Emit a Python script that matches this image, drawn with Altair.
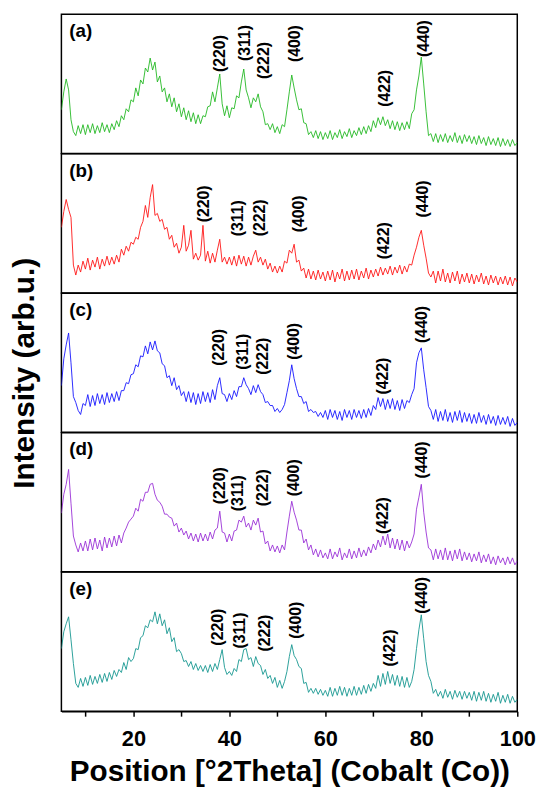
import altair as alt
import pandas as pd

FONT = "Liberation Sans"

# 2-theta sampling positions (degrees), 5.0 ... 100.0 in 0.5 steps
two_theta = [round(5 + 0.5 * i, 1) for i in range(191)]

# Intensities (arbitrary units, 0-140 per panel)
int_a = [
    44, 62, 75, 64, 34, 22, 18, 28, 20, 29,
    19, 29, 21, 30, 20, 28, 21, 31, 22, 29, 21, 30, 24, 33, 27, 38, 34, 45, 42, 54,
    52, 66, 58, 74, 70, 86, 82, 96, 84, 92, 72, 78, 62, 66, 52, 60, 47, 56, 42, 50,
    37, 46, 34, 43, 32, 41, 30, 39, 30, 38, 37, 47, 48, 62, 52, 66, 80, 50, 38, 48,
    36, 46, 45, 58, 56, 72, 85, 64, 56, 46, 56, 52, 60, 47, 42, 29, 30, 24, 30, 21,
    27, 20, 29, 27, 44, 62, 79, 66, 54, 44, 45, 31, 30, 19, 22, 16, 23, 15, 22, 14,
    21, 15, 23, 14, 21, 16, 24, 15, 22, 17, 25, 16, 23, 18, 26, 19, 27, 20, 28, 22,
    33, 26, 36, 29, 37, 28, 34, 25, 33, 24, 32, 23, 31, 24, 32, 25, 40, 44, 64, 78,
    97, 70, 42, 18, 20, 12, 20, 11, 19, 12, 20, 11, 18, 12, 21, 11, 18, 10, 19, 12,
    18, 10, 17, 9, 18, 10, 16, 8, 17, 9, 15, 8, 16, 7, 15, 8, 14, 7, 14, 8, 11]

int_b = [
    66, 82, 94, 84, 76, 28, 18, 28, 21, 32,
    24, 35, 23, 33, 26, 36, 24, 34, 27, 37, 28, 36, 29, 38, 31, 44, 38, 47, 42, 51,
    49, 56, 54, 66, 72, 88, 76, 96, 109, 78, 80, 72, 74, 64, 66, 54, 58, 46, 50, 40,
    46, 68, 42, 48, 63, 34, 40, 33, 38, 68, 32, 42, 30, 40, 31, 43, 54, 31, 36, 29,
    36, 28, 37, 27, 38, 29, 37, 27, 36, 28, 37, 43, 31, 36, 28, 34, 24, 30, 21, 27,
    20, 27, 21, 32, 30, 43, 40, 49, 31, 33, 22, 25, 15, 24, 14, 22, 13, 23, 14, 21,
    12, 22, 13, 23, 11, 21, 14, 24, 12, 22, 13, 23, 14, 24, 13, 22, 15, 25, 14, 23,
    16, 24, 17, 26, 18, 25, 19, 27, 18, 26, 20, 28, 19, 27, 21, 29, 28, 38, 46, 56,
    63, 48, 35, 20, 16, 22, 10, 22, 12, 24, 11, 20, 10, 21, 12, 22, 9, 19, 11, 20,
    10, 19, 9, 18, 11, 20, 9, 17, 8, 18, 10, 17, 8, 16, 9, 17, 8, 16, 7, 15, 11]

int_c = [
    47, 74, 88, 100, 70, 36, 30, 22, 18, 29,
    27, 38, 26, 37, 27, 39, 29, 38, 28, 40, 30, 39, 31, 41, 32, 42, 42, 50, 49, 58,
    59, 68, 66, 77, 76, 87, 79, 91, 83, 92, 82, 80, 69, 67, 55, 57, 47, 55, 43, 47,
    37, 41, 31, 41, 30, 40, 28, 39, 29, 41, 31, 40, 30, 43, 33, 47, 55, 39, 38, 31,
    39, 33, 42, 36, 46, 46, 55, 48, 44, 38, 47, 40, 48, 41, 38, 30, 31, 27, 27, 21,
    24, 20, 23, 28, 40, 52, 68, 54, 44, 36, 36, 29, 31, 21, 23, 20, 21, 16, 20, 15,
    22, 13, 23, 15, 22, 13, 21, 12, 23, 15, 22, 13, 23, 15, 22, 14, 23, 15, 24, 17,
    27, 23, 35, 26, 34, 23, 33, 24, 34, 23, 32, 22, 33, 24, 32, 30, 38, 44, 70, 80,
    85, 63, 45, 26, 22, 13, 23, 11, 21, 12, 23, 11, 20, 10, 21, 12, 22, 10, 20, 11,
    19, 9, 18, 9, 20, 10, 17, 8, 18, 9, 16, 7, 17, 8, 15, 8, 16, 6, 14, 7, 10]

int_d = [
    59, 78, 88, 103, 69, 36, 27, 20, 29, 21,
    31, 21, 33, 22, 34, 23, 32, 21, 35, 24, 34, 25, 36, 26, 37, 29, 39, 44, 50, 53,
    56, 64, 61, 73, 71, 80, 80, 88, 89, 78, 72, 70, 66, 58, 58, 55, 54, 46, 49, 40,
    44, 37, 41, 33, 39, 31, 38, 30, 39, 31, 38, 31, 40, 33, 42, 44, 61, 40, 39, 30,
    38, 31, 41, 42, 52, 50, 56, 45, 49, 42, 52, 47, 54, 40, 41, 28, 31, 21, 27, 20,
    26, 19, 27, 22, 40, 56, 71, 60, 52, 42, 42, 29, 33, 22, 27, 17, 23, 15, 22, 14,
    19, 13, 23, 13, 20, 15, 24, 12, 19, 14, 23, 13, 21, 14, 24, 15, 22, 16, 25, 19,
    28, 22, 32, 25, 36, 27, 38, 24, 34, 23, 33, 22, 32, 21, 31, 24, 30, 38, 63, 75,
    88, 60, 40, 24, 22, 12, 23, 13, 22, 12, 24, 12, 21, 11, 22, 13, 23, 11, 20, 12,
    19, 10, 18, 11, 20, 9, 17, 10, 18, 8, 15, 7, 16, 9, 14, 7, 15, 8, 14, 7, 11]

int_e = [
    63, 80, 88, 95, 72, 48, 28, 24, 33, 25,
    34, 26, 36, 27, 35, 28, 37, 29, 38, 30, 39, 32, 41, 35, 42, 39, 49, 42, 54, 50,
    53, 63, 62, 74, 76, 86, 84, 92, 90, 100, 88, 98, 86, 92, 78, 84, 70, 74, 60, 62,
    58, 50, 51, 45, 50, 42, 48, 41, 46, 40, 46, 39, 47, 40, 48, 42, 52, 62, 44, 37,
    40, 36, 43, 40, 52, 50, 62, 63, 52, 54, 45, 55, 48, 46, 37, 42, 33, 36, 28, 34,
    24, 31, 23, 30, 40, 55, 67, 56, 52, 45, 43, 28, 29, 19, 23, 18, 23, 17, 22, 16,
    21, 15, 24, 15, 23, 16, 25, 16, 24, 15, 23, 16, 25, 16, 24, 17, 26, 18, 27, 20,
    28, 23, 36, 25, 38, 27, 40, 28, 37, 26, 36, 25, 35, 24, 34, 24, 30, 42, 63, 82,
    97, 73, 50, 36, 30, 18, 22, 15, 20, 13, 22, 14, 20, 12, 21, 14, 20, 12, 20, 13,
    19, 11, 20, 10, 19, 11, 20, 10, 18, 9, 17, 10, 19, 8, 16, 9, 17, 8, 15, 9, 12]

panel_tags = ["(a)", "(b)", "(c)", "(d)", "(e)"]
panel_colors = ["#22b822", "#ff1414", "#1414ff", "#9a2fd6", "#14968f"]

peak_hkl = ["(220)", "(311)", "(222)", "(400)", "(422)", "(440)"]
lab_a_x = [38.0, 43.3, 47.2, 53.6, 72.4, 80.5]
lab_a_y = [82, 93, 75, 92, 47, 97]
lab_b_x = [34.8, 41.9, 46.3, 54.6, 72.2, 80.3]
lab_b_y = [71, 57, 57, 61, 34, 76]
lab_c_x = [37.9, 42.8, 47.0, 53.4, 72.1, 80.1]
lab_c_y = [67, 63, 58, 73, 38, 90]
lab_d_x = [38.1, 41.9, 47.0, 53.4, 72.1, 80.1]
lab_d_y = [68, 61, 66, 76, 38, 94]
lab_e_x = [37.6, 42.3, 47.4, 53.9, 73.4, 80.2]
lab_e_y = [66, 63, 60, 73, 45, 98]

x_ticks = [10, 20, 30, 40, 50, 60, 70, 80, 90, 100]

series = [int_a, int_b, int_c, int_d, int_e]
labels = [(lab_a_x, lab_a_y), (lab_b_x, lab_b_y), (lab_c_x, lab_c_y),
          (lab_d_x, lab_d_y), (lab_e_x, lab_e_y)]

for s in series:
    assert len(s) == len(two_theta), len(s)

W = 461
H = 140.7

xscale = alt.Scale(domain=[5, 100], nice=False, zero=False)
yscale = alt.Scale(domain=[0, 140], nice=False, zero=False)


def make_panel(i):
    last = i == 4
    if last:
        xaxis = alt.Axis(
            values=x_ticks,
            labelExpr="datum.value % 20 == 0 ? datum.label : ''",
            title="Position [°2Theta] (Cobalt (Co))",
            grid=False, ticks=True, tickSize=5, tickWidth=1.5, tickColor="black",
            domain=True, domainColor="black", domainWidth=1.5,
            labelFont=FONT, labelFontSize=22, labelFontWeight="bold",
            labelColor="black", labelPadding=13, labelFlush=False,
            titleFont=FONT, titleFontSize=30, titleFontWeight="bold",
            titleColor="black", titlePadding=7,
        )
    else:
        xaxis = None
    xenc = alt.X("x:Q", scale=xscale, axis=xaxis)
    yenc = alt.Y("y:Q", scale=yscale, axis=None)

    df = pd.DataFrame({"x": two_theta, "y": series[i]})
    line = alt.Chart(df).mark_line(
        color=panel_colors[i], strokeWidth=0.9, clip=True
    ).encode(x=xenc, y=yenc)

    lx, ly = labels[i]
    ldf = pd.DataFrame({"x": lx, "y": ly, "t": peak_hkl})
    lab = alt.Chart(ldf).mark_text(
        angle=270, align="left", baseline="middle", font=FONT,
        fontSize=16, fontWeight="bold", color="black"
    ).encode(x=xenc, y=yenc, text="t:N")

    tdf = pd.DataFrame({"t": [panel_tags[i]]})
    tag = alt.Chart(tdf).mark_text(
        align="left", baseline="middle", font=FONT, fontSize=19,
        fontWeight="bold", color="black"
    ).encode(x=alt.value(8), y=alt.value(17), text="t:N")

    layers = [line, lab, tag]
    if i == 2:
        ydf = pd.DataFrame({"t": ["Intensity (arb.u.)"]})
        ytitle = alt.Chart(ydf).mark_text(
            angle=270, align="center", baseline="middle", font=FONT,
            fontSize=30, fontWeight="bold", color="black"
        ).encode(x=alt.value(-37), y=alt.value(81), text="t:N")
        layers.append(ytitle)
    return alt.layer(*layers).properties(width=W, height=H)


chart = alt.vconcat(
    *[make_panel(i) for i in range(5)], spacing=0, bounds="flush"
).properties(
    padding={"left": 1, "top": 1, "right": 5, "bottom": 5},
    background="white",
).configure_view(
    stroke="black", strokeWidth=1.5
)

chart.save("out.html", embed_options={"renderer": "svg", "actions": False})
